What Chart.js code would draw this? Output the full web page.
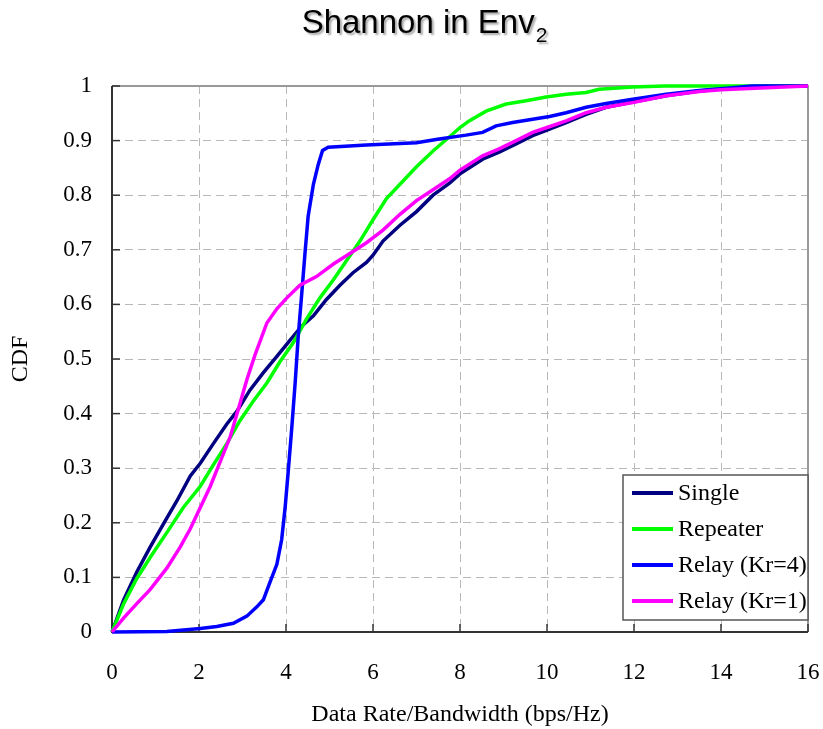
<!DOCTYPE html>
<html>
<head>
<meta charset="utf-8">
<script src="https://cdn.jsdelivr.net/npm/chart.js@4"></script>
<style>
  html, body { margin: 0; padding: 0; background: #fff; }
  #wrap { width: 823px; height: 729px; }
</style>
</head>
<body>
<div id="wrap"><canvas id="cdfChart" width="823" height="729"></canvas></div>
<script>
// values
const seriesNames = ['Single', 'Repeater', 'Relay (Kr=4)', 'Relay (Kr=1)'];
const seriesColors = ['#000080', '#00ff00', '#0000ff', '#ff00ff'];

const singleRate = [0, 0.27, 0.57, 0.88, 1.19, 1.49, 1.8, 2.03, 2.33, 2.64, 2.87, 3.17, 3.48, 3.79, 4.09, 4.36, 4.63, 4.93, 5.24, 5.54, 5.85, 6.0, 6.23, 6.62, 7.0, 7.38, 7.76, 8.0, 8.52, 8.9, 9.29, 9.67, 10.0, 10.44, 10.9, 11.36, 12.0, 12.74, 13.5, 14.27, 15.04, 16];
const singleCdf = [0, 0.059, 0.11, 0.156, 0.199, 0.24, 0.286, 0.309, 0.345, 0.381, 0.404, 0.443, 0.475, 0.505, 0.534, 0.56, 0.579, 0.609, 0.635, 0.658, 0.677, 0.69, 0.716, 0.745, 0.77, 0.8, 0.822, 0.839, 0.866, 0.879, 0.894, 0.909, 0.919, 0.933, 0.948, 0.961, 0.971, 0.982, 0.991, 0.997, 1.0, 1.0];

const repeaterRate = [0, 0.27, 0.57, 0.88, 1.26, 1.64, 2.03, 2.33, 2.64, 2.94, 3.25, 3.56, 3.86, 4.17, 4.47, 4.78, 5.09, 5.39, 5.7, 6.0, 6.31, 6.62, 7.0, 7.38, 7.76, 8.0, 8.21, 8.6, 9.06, 9.52, 9.98, 10.44, 10.9, 11.2, 11.97, 12.7, 16];
const repeaterCdf = [0, 0.052, 0.098, 0.137, 0.182, 0.228, 0.267, 0.306, 0.345, 0.387, 0.423, 0.456, 0.495, 0.53, 0.573, 0.612, 0.645, 0.68, 0.716, 0.755, 0.794, 0.82, 0.852, 0.881, 0.907, 0.924, 0.936, 0.954, 0.967, 0.973, 0.98, 0.985, 0.988, 0.994, 0.998, 1.0, 1.0];

const relay4Rate = [0, 1.26, 2.03, 2.41, 2.79, 3.1, 3.33, 3.48, 3.63, 3.79, 3.9, 3.98, 4.05, 4.13, 4.21, 4.28, 4.36, 4.44, 4.51, 4.63, 4.74, 4.84, 4.97, 5.85, 7.0, 7.52, 8.14, 8.52, 8.83, 9.21, 9.67, 10.06, 10.44, 10.9, 11.36, 11.97, 12.74, 13.5, 14.27, 14.7, 16];
const relay4Cdf = [0, 0.001, 0.0065, 0.01, 0.016, 0.029, 0.046, 0.059, 0.091, 0.124, 0.169, 0.228, 0.293, 0.371, 0.456, 0.54, 0.618, 0.697, 0.762, 0.82, 0.856, 0.882, 0.888, 0.892, 0.896, 0.903, 0.91, 0.915, 0.927, 0.933, 0.939, 0.944, 0.951, 0.961, 0.968, 0.976, 0.985, 0.992, 0.997, 1.0, 1.0];

const relay1Rate = [0, 0.27, 0.57, 0.88, 1.26, 1.57, 1.8, 2.03, 2.26, 2.49, 2.72, 2.91, 3.1, 3.29, 3.56, 3.79, 4.02, 4.32, 4.7, 5.09, 5.54, 5.85, 6.23, 6.62, 7.0, 7.38, 7.76, 8.0, 8.52, 8.9, 9.29, 9.67, 10.0, 10.44, 10.9, 11.36, 12.0, 12.74, 13.5, 14.0, 15.04, 16];
const relay1Cdf = [0, 0.026, 0.052, 0.078, 0.117, 0.156, 0.189, 0.228, 0.267, 0.3125, 0.358, 0.41, 0.462, 0.508, 0.566, 0.592, 0.612, 0.635, 0.651, 0.674, 0.697, 0.713, 0.736, 0.765, 0.79, 0.81, 0.83, 0.846, 0.872, 0.885, 0.9, 0.915, 0.924, 0.936, 0.951, 0.961, 0.97, 0.982, 0.99, 0.993, 0.997, 1.0];

const xTicks = [0, 2, 4, 6, 8, 10, 12, 14, 16];
const yTicks = [0, 0.1, 0.2, 0.3, 0.4, 0.5, 0.6, 0.7, 0.8, 0.9, 1];

const rates = [singleRate, repeaterRate, relay4Rate, relay1Rate];
const cdfs = [singleCdf, repeaterCdf, relay4Cdf, relay1Cdf];

const serif = '"Liberation Serif", "Times New Roman", serif';
const sans = '"Liberation Sans", Arial, sans-serif';

function toPoints(xs, ys) {
    return xs.map((x, i) => ({ x: x, y: ys[i] }));
}

// title with subscript and soft shadow
const titlePlugin = {
    id: 'shadowTitle',
    afterDraw(chart) {
        const ctx = chart.ctx;
        const main = 'Shannon in Env';
        const sub = '2';
        ctx.save();
        ctx.font = '33px ' + sans;
        const w1 = ctx.measureText(main).width;
        ctx.font = '21px ' + sans;
        const w2 = ctx.measureText(sub).width;
        const x0 = 424 - (w1 + w2) / 2;
        ctx.shadowColor = 'rgba(0,0,0,0.35)';
        ctx.shadowOffsetX = 2;
        ctx.shadowOffsetY = 2;
        ctx.shadowBlur = 2;
        ctx.fillStyle = '#000';
        ctx.textBaseline = 'alphabetic';
        ctx.font = '33px ' + sans;
        ctx.fillText(main, x0, 33);
        ctx.font = '21px ' + sans;
        ctx.fillText(sub, x0 + w1 + 1, 42);
        ctx.restore();
    }
};

// frame and inward tick marks
const framePlugin = {
    id: 'frame',
    beforeDatasetsDraw(chart) {
        const { ctx, chartArea: a, scales } = chart;
        ctx.save();
        ctx.strokeStyle = '#999';
        ctx.lineWidth = 2;
        ctx.beginPath();
        ctx.moveTo(a.left, a.top);
        ctx.lineTo(a.right, a.top);
        ctx.lineTo(a.right, a.bottom);
        ctx.stroke();
        ctx.strokeStyle = '#333';
        ctx.beginPath();
        ctx.moveTo(a.left, a.top);
        ctx.lineTo(a.left, a.bottom);
        ctx.lineTo(a.right, a.bottom);
        ctx.stroke();
        ctx.lineWidth = 1.5;
        yTicks.forEach(v => {
            const y = scales.y.getPixelForValue(v);
            ctx.beginPath();
            ctx.moveTo(a.left, y);
            ctx.lineTo(a.left + 8, y);
            ctx.stroke();
        });
        xTicks.forEach(v => {
            const x = scales.x.getPixelForValue(v);
            ctx.beginPath();
            ctx.moveTo(x, a.bottom);
            ctx.lineTo(x, a.bottom - 8);
            ctx.stroke();
        });
        ctx.restore();
    }
};

// boxed legend inside the plot, lower right
const legendPlugin = {
    id: 'boxLegend',
    afterDraw(chart) {
        const ctx = chart.ctx;
        const bx = 623, by = 475, bw = 185, bh = 145;
        ctx.save();
        ctx.fillStyle = '#fff';
        ctx.fillRect(bx, by, bw, bh);
        ctx.strokeStyle = '#555';
        ctx.lineWidth = 1.5;
        ctx.strokeRect(bx, by, bw, bh);
        ctx.font = '24px ' + serif;
        ctx.textBaseline = 'middle';
        ctx.fillStyle = '#000';
        chart.data.datasets.forEach((ds, i) => {
            const y = by + 18 + i * 36;
            ctx.strokeStyle = ds.borderColor;
            ctx.lineWidth = 4;
            ctx.beginPath();
            ctx.moveTo(bx + 9, y);
            ctx.lineTo(bx + 50, y);
            ctx.stroke();
            ctx.fillText(ds.label, bx + 55, y + 1);
        });
        ctx.restore();
    }
};

const datasets = seriesNames.map((name, i) => ({
    label: name,
    data: toPoints(rates[i], cdfs[i]),
    borderColor: seriesColors[i],
    backgroundColor: seriesColors[i],
    borderWidth: 3.5,
    pointRadius: 0,
    tension: 0,
    fill: false,
    clip: false,
    order: seriesNames.length - i
}));

const gridStyle = {
    color: '#b8b8b8',
    lineWidth: 1,
    drawTicks: false
};

new Chart(document.getElementById('cdfChart').getContext('2d'), {
    type: 'line',
    data: { datasets: datasets },
    options: {
        responsive: false,
        animation: false,
        layout: { padding: { top: 86, right: 15, left: 0, bottom: 0 } },
        plugins: {
            legend: { display: false },
            tooltip: { enabled: false },
            title: { display: false }
        },
        scales: {
            x: {
                type: 'linear',
                min: 0,
                max: 16,
                afterBuildTicks: s => { s.ticks = xTicks.map(v => ({ value: v })); },
                afterFit: s => { s.height = 97; s.paddingLeft = 0; s.paddingRight = 0; },
                grid: gridStyle,
                border: { display: false, dash: [8, 5] },
                ticks: {
                    padding: 27,
                    maxRotation: 0,
                    color: '#000',
                    font: { family: serif, size: 23 }
                },
                title: {
                    display: true,
                    text: 'Data Rate/Bandwidth (bps/Hz)',
                    color: '#000',
                    font: { family: serif, size: 24 },
                    padding: { top: 0, bottom: 0 }
                }
            },
            y: {
                type: 'linear',
                min: 0,
                max: 1,
                afterBuildTicks: s => { s.ticks = yTicks.map(v => ({ value: v })); },
                afterFit: s => { s.width = 112; s.paddingTop = 0; s.paddingBottom = 0; },
                grid: gridStyle,
                border: { display: false, dash: [8, 5] },
                ticks: {
                    padding: 20,
                    color: '#000',
                    font: { family: serif, size: 23 },
                    callback: v => String(Math.round(v * 10) / 10)
                },
                title: {
                    display: true,
                    text: 'CDF',
                    color: '#000',
                    font: { family: serif, size: 24 },
                    padding: { top: 6, bottom: 0 }
                }
            }
        }
    },
    plugins: [framePlugin, legendPlugin, titlePlugin]
});
</script>
</body>
</html>
